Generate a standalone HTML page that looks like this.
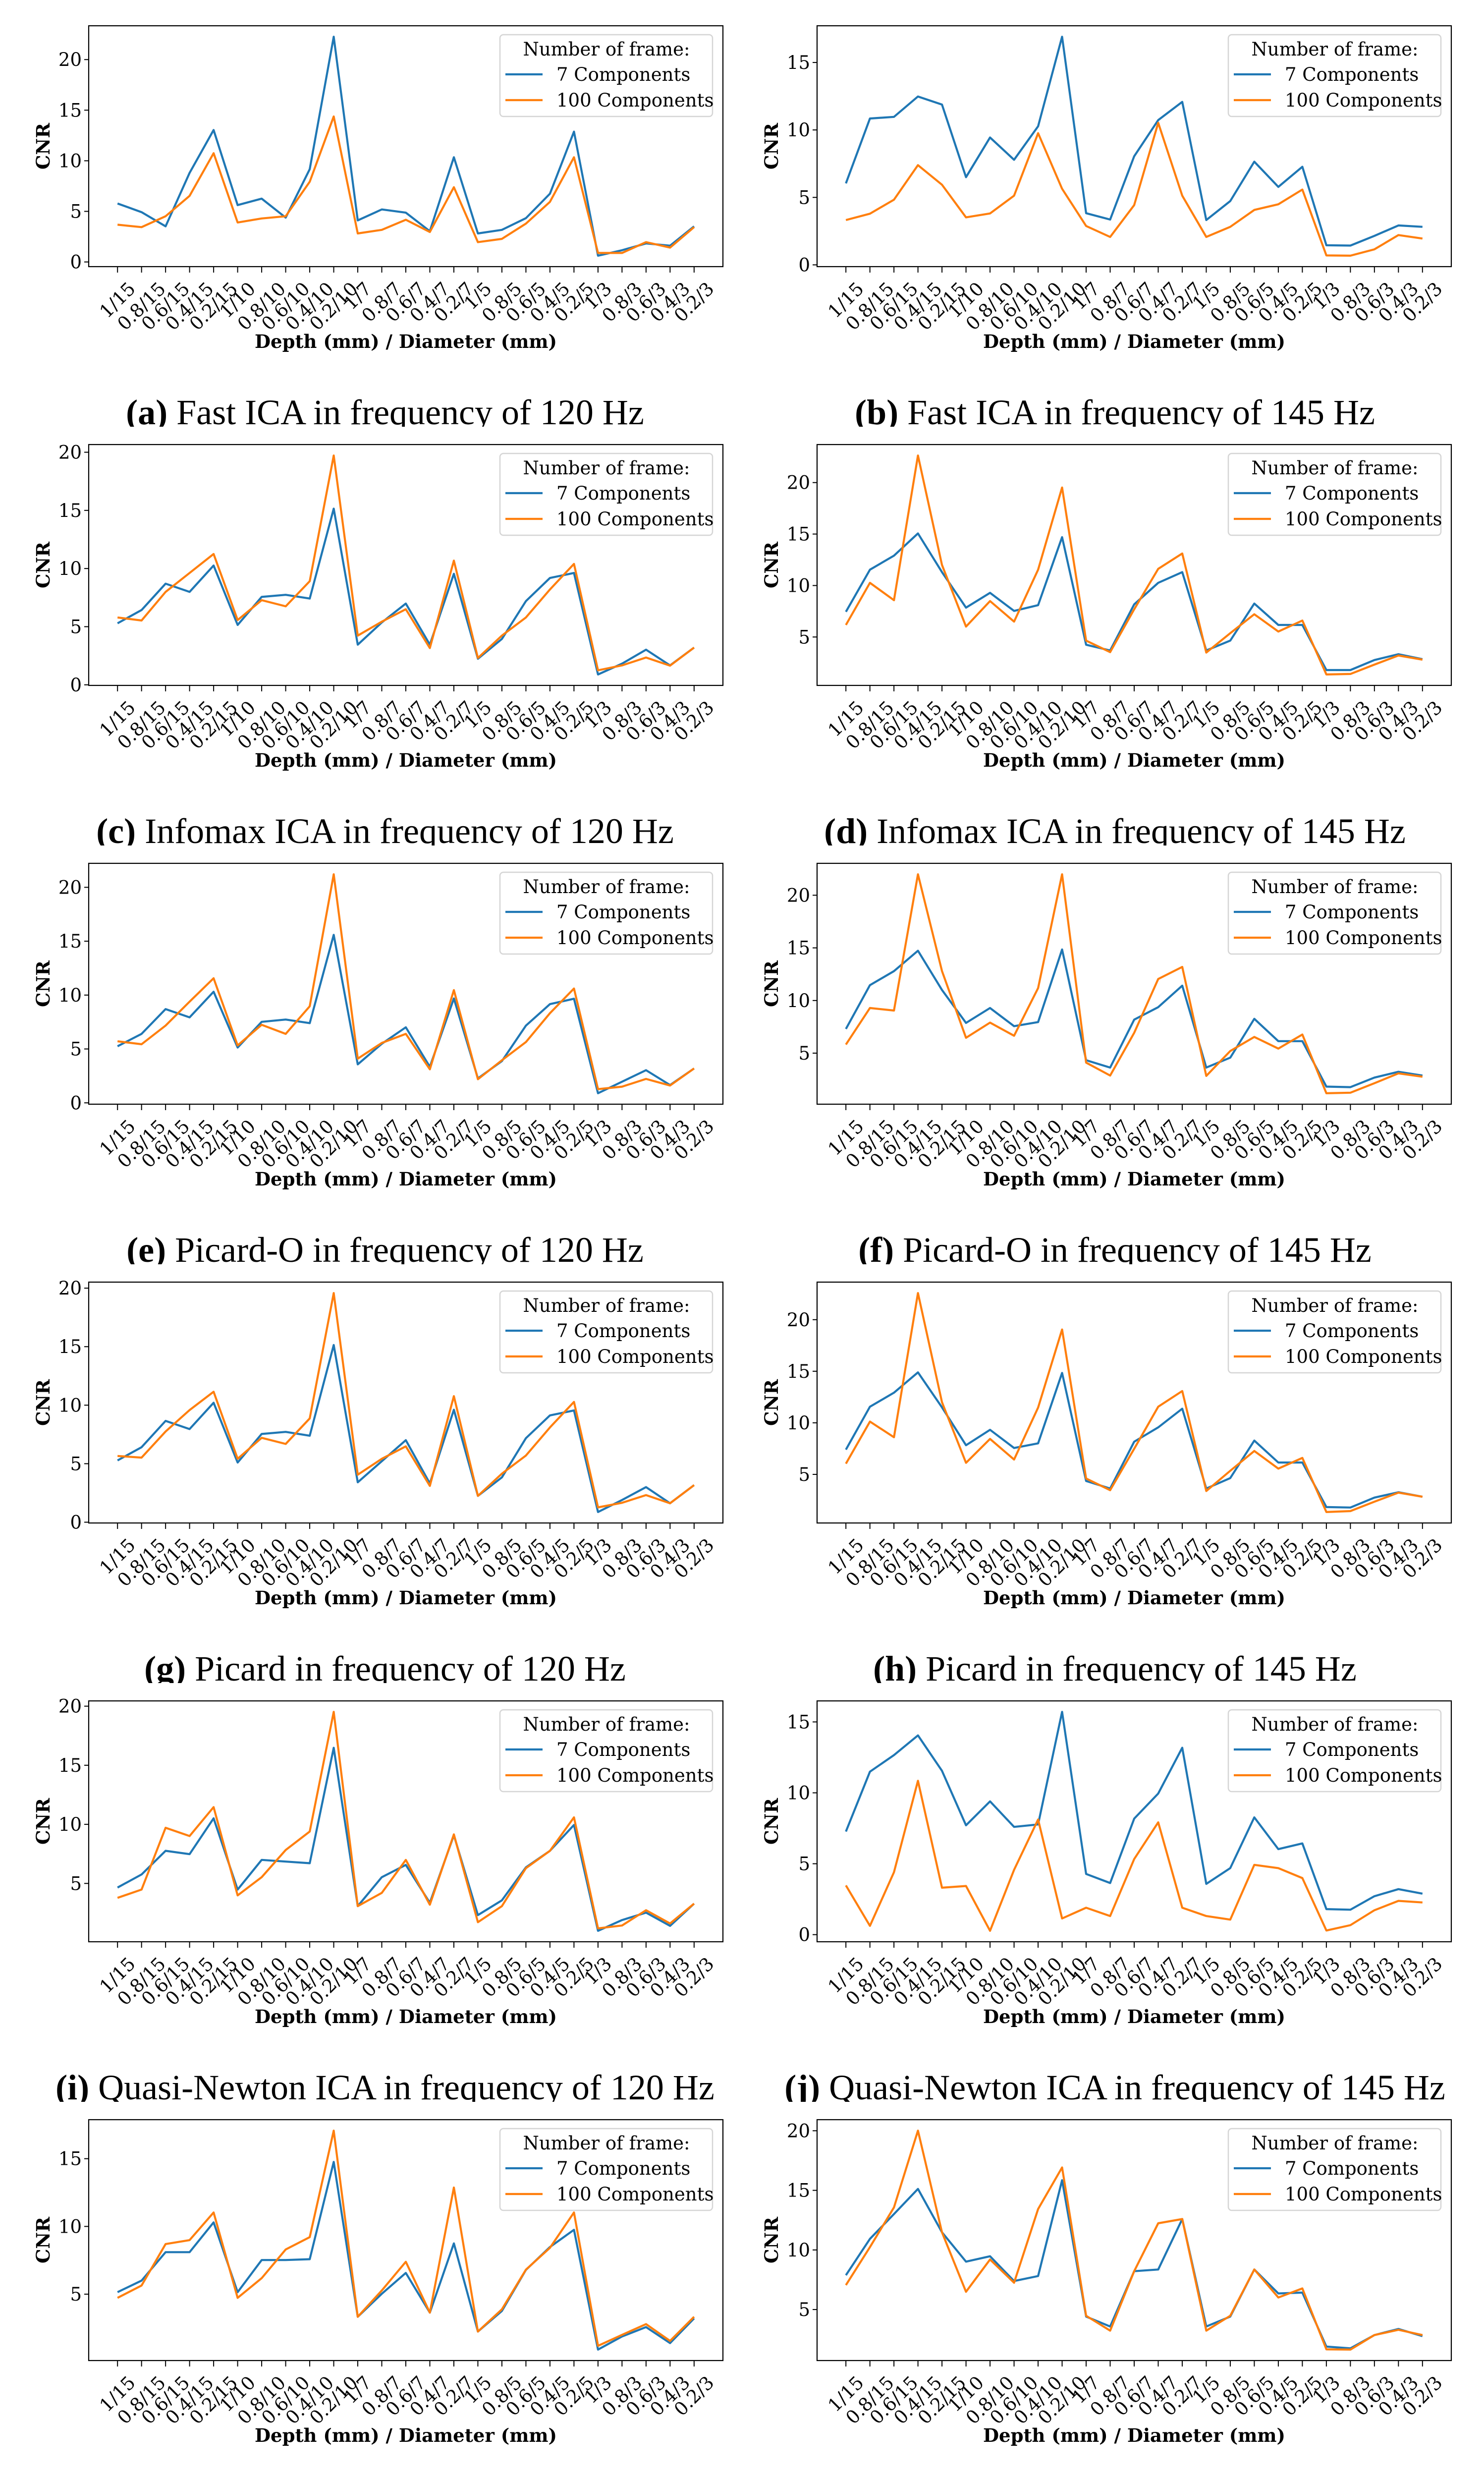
<!DOCTYPE html>
<html><head><meta charset="utf-8"><style>
html,body{margin:0;padding:0;background:#fff;width:2995px;height:5154px;overflow:hidden;}
svg{display:block;}
</style></head><body>
<svg id="fig" xmlns="http://www.w3.org/2000/svg" width="2995" height="5154" viewBox="0 0 2995 5154" overflow="hidden"></svg>
<script>
const categories = ["1/15","0.8/15","0.6/15","0.4/15","0.2/15","1/10","0.8/10","0.6/10","0.4/10","0.2/10","1/7","0.8/7","0.6/7","0.4/7","0.2/7","1/5","0.8/5","0.6/5","0.4/5","0.2/5","1/3","0.8/3","0.6/3","0.4/3","0.2/3"];
const seriesNames = ["7 Components","100 Components"];
const captionLetters = ["(a)","(b)","(c)","(d)","(e)","(f)","(g)","(h)","(i)","(j)","(k)","(l)"];
const captionTexts = ["Fast ICA in frequency of 120 Hz","Fast ICA in frequency of 145 Hz","Infomax ICA in frequency of 120 Hz","Infomax ICA in frequency of 145 Hz","Picard-O in frequency of 120 Hz","Picard-O in frequency of 145 Hz","Picard in frequency of 120 Hz","Picard in frequency of 145 Hz","Quasi-Newton ICA in frequency of 120 Hz","Quasi-Newton ICA in frequency of 145 Hz","Trust-Region ICA in frequency of 120 Hz","Trust-Region ICA in frequency of 145 Hz"];

const blue_a=[5.78,4.92,3.52,8.8,13.04,5.62,6.26,4.38,9.17,22.26,4.11,5.19,4.87,3.04,10.35,2.82,3.17,4.33,6.75,12.88,0.62,1.16,1.83,1.61,3.52];
const orange_a=[3.68,3.44,4.52,6.53,10.75,3.9,4.3,4.52,7.93,14.38,2.82,3.17,4.17,2.96,7.39,1.96,2.28,3.79,5.94,10.35,0.89,0.89,1.96,1.42,3.44];
const blue_b=[6.04,10.85,10.97,12.48,11.88,6.5,9.44,7.79,10.27,16.91,3.83,3.36,8.05,10.73,12.08,3.32,4.73,7.65,5.78,7.27,1.45,1.43,2.15,2.92,2.82];
const orange_b=[3.32,3.79,4.83,7.39,5.94,3.52,3.81,5.13,9.76,5.64,2.88,2.07,4.43,10.53,5.13,2.07,2.82,4.07,4.49,5.58,0.7,0.68,1.15,2.21,1.95];
const blue_c=[5.29,6.43,8.7,7.99,10.26,5.15,7.56,7.74,7.42,15.15,3.45,5.36,6.99,3.45,9.55,2.24,3.94,7.2,9.19,9.62,0.89,1.82,3.02,1.67,3.2];
const orange_c=[5.79,5.53,7.99,9.62,11.25,5.57,7.28,6.75,8.91,19.72,4.23,5.43,6.5,3.16,10.68,2.31,4.23,5.79,8.2,10.4,1.25,1.67,2.35,1.65,3.2];
const blue_d=[7.45,11.54,12.9,15.06,11.3,7.85,9.29,7.53,8.09,14.7,4.25,3.69,8.17,10.26,11.3,3.69,4.65,8.25,6.17,6.17,1.79,1.79,2.76,3.33,2.85];
const orange_d=[6.17,10.26,8.57,22.63,12.0,6.01,8.49,6.49,11.54,19.52,4.65,3.53,7.69,11.62,13.11,3.49,5.37,7.21,5.53,6.6,1.36,1.41,2.32,3.2,2.8];
const blue_e=[5.25,6.4,8.7,7.93,10.31,5.13,7.52,7.73,7.4,15.59,3.57,5.48,7.01,3.34,9.69,2.27,3.87,7.17,9.16,9.66,0.89,1.96,3.03,1.65,3.19];
const orange_e=[5.71,5.44,7.17,9.39,11.56,5.33,7.24,6.4,8.96,21.21,4.1,5.56,6.4,3.11,10.46,2.19,3.95,5.64,8.32,10.61,1.27,1.5,2.22,1.61,3.19];
const blue_f=[7.3,11.46,12.79,14.73,11.0,7.87,9.29,7.56,7.95,14.85,4.33,3.63,8.18,9.37,11.41,3.63,4.57,8.26,6.14,6.14,1.82,1.77,2.68,3.23,2.87];
const orange_f=[5.82,9.29,9.05,21.99,12.8,6.46,7.9,6.65,11.18,21.99,4.1,2.87,6.93,12.04,13.19,2.84,5.2,6.54,5.43,6.77,1.19,1.24,2.14,3.08,2.76];
const blue_g=[5.28,6.41,8.66,7.96,10.21,5.1,7.54,7.72,7.39,15.14,3.41,5.21,7.01,3.31,9.61,2.25,3.83,7.18,9.13,9.55,0.87,1.9,3.0,1.62,3.17];
const orange_g=[5.66,5.52,7.75,9.58,11.15,5.42,7.21,6.69,8.87,19.58,4.06,5.42,6.48,3.1,10.77,2.25,4.15,5.7,8.1,10.28,1.27,1.66,2.32,1.62,3.17];
const blue_h=[7.4,11.56,12.92,14.89,11.5,7.83,9.32,7.56,8.01,14.84,4.36,3.63,8.17,9.56,11.37,3.63,4.64,8.28,6.15,6.15,1.83,1.79,2.75,3.27,2.83];
const orange_h=[6.04,10.12,8.6,22.58,12.0,6.12,8.44,6.44,11.48,19.05,4.6,3.47,7.48,11.56,13.08,3.39,5.35,7.27,5.56,6.6,1.35,1.44,2.35,3.23,2.83];
const blue_i=[4.65,5.76,7.76,7.48,10.51,4.48,6.99,6.85,6.71,16.48,3.08,5.53,6.57,3.36,9.08,2.32,3.57,6.36,7.76,9.95,0.99,1.9,2.53,1.41,3.29];
const orange_i=[3.78,4.48,9.71,9.01,11.46,3.99,5.53,7.83,9.39,19.52,3.08,4.2,6.99,3.2,9.15,1.72,3.08,6.29,7.76,10.59,1.2,1.44,2.73,1.61,3.29];
const blue_j=[7.27,11.49,12.66,14.05,11.55,7.71,9.4,7.6,7.77,15.71,4.28,3.64,8.18,9.95,13.18,3.58,4.69,8.27,6.03,6.43,1.8,1.76,2.71,3.21,2.89];
const orange_j=[3.47,0.62,4.4,10.85,3.31,3.43,0.27,4.57,8.12,1.14,1.9,1.31,5.33,7.92,1.9,1.31,1.06,4.92,4.69,3.99,0.29,0.67,1.72,2.38,2.27];
const blue_k=[5.15,6.0,8.1,8.1,10.3,5.15,7.52,7.52,7.58,14.76,3.33,5.03,6.57,3.64,8.75,2.24,3.76,6.79,8.48,9.75,0.91,1.88,2.57,1.39,3.21];
const orange_k=[4.73,5.64,8.7,8.99,11.03,4.73,6.18,8.3,9.21,17.07,3.33,5.27,7.39,3.64,12.87,2.24,3.88,6.81,8.42,11.03,1.19,2.0,2.79,1.55,3.33];
const blue_l=[7.88,10.93,13.01,15.12,11.48,9.02,9.47,7.39,7.81,15.85,4.41,3.58,8.22,8.36,12.59,3.58,4.41,8.36,6.35,6.42,1.89,1.75,2.86,3.37,2.77];
const orange_l=[7.05,10.24,13.57,20.01,11.48,6.49,9.2,7.25,13.43,16.92,4.48,3.23,8.22,12.24,12.59,3.23,4.48,8.36,6.01,6.77,1.66,1.64,2.86,3.3,2.86];

const blueSeries=[blue_a,blue_b,blue_c,blue_d,blue_e,blue_f,blue_g,blue_h,blue_i,blue_j,blue_k,blue_l];
const orangeSeries=[orange_a,orange_b,orange_c,orange_d,orange_e,orange_f,orange_g,orange_h,orange_i,orange_j,orange_k,orange_l];

const NS="http://www.w3.org/2000/svg";
const svg=document.getElementById('fig');
function mk(tag,attrs,parent){const e=document.createElementNS(NS,tag);for(const k in attrs)e.setAttribute(k,attrs[k]);(parent||svg).appendChild(e);return e;}
const SERIF='"DejaVu Serif", "Liberation Serif", serif';
const CAP='"Liberation Serif", serif';
const AX_L=179, AX_W=1280, AX_T=52, AX_B=538, COL_OFF=1470, ROW_H=845;
const COLORS=["#1f77b4","#ff7f0e"];

for(let p=0;p<12;p++){
  const col=p%2,row=Math.floor(p/2);
  const ox=col*COL_OFF, oy=row*ROW_H;
  const g=mk('g',{transform:`translate(${ox},${oy})`});
  
  
  const b=blueSeries[p], o=orangeSeries[p];
  const all=b.concat(o);
  let mn=Math.min(...all), mx=Math.max(...all);
  const m=(mx-mn)*0.05; const lo=mn-m, hi=mx+m;
  const n=categories.length;
  const xlo=-0.05*(n-1), xhi=(n-1)*1.05;
  const xs=i=>AX_L+(i-xlo)/(xhi-xlo)*AX_W;
  const ys=v=>AX_B-(v-lo)/(hi-lo)*(AX_B-AX_T);
  for(let v=Math.ceil(lo/5)*5; v<=hi; v+=5){
    const y=ys(v);
    const t=mk('line',{x1:AX_L-9,x2:AX_L,y1:y,y2:y,stroke:'#000','stroke-width':2},g);
    
    
    const tx=mk('text',{x:AX_L-14,y:y+13,'text-anchor':'end','font-family':SERIF,'font-size':37,fill:'#000'},g);
    tx.textContent=String(v);
    
    
  }
  for(let i=0;i<n;i++){
    const x=xs(i);
    const t=mk('line',{x1:x,x2:x,y1:AX_B,y2:AX_B+12,stroke:'#000','stroke-width':2},g);
    
    
    const lbl=mk('text',{'text-anchor':'middle','dominant-baseline':'central','font-family':SERIF,'font-size':37,fill:'#000'},g);
    lbl.textContent=categories[i];
    
    
    const w=lbl.getComputedTextLength()||categories[i].length*22;
    const h=40;
    const cy=AX_B+24+(w+h)/(2*Math.SQRT2);
    lbl.setAttribute('x',x);lbl.setAttribute('y',cy);
    lbl.setAttribute('transform',`rotate(-45 ${x} ${cy})`);
  }
  [b,o].forEach((arr,si)=>{
    const pts=arr.map((v,i)=>xs(i).toFixed(1)+','+ys(v).toFixed(1)).join(' ');
    const pl=mk('polyline',{points:pts,fill:'none',stroke:COLORS[si],'stroke-width':4.2,'stroke-linejoin':'round'},g);
    
    
  });
  const fr=mk('rect',{x:AX_L,y:AX_T,width:AX_W,height:AX_B-AX_T,fill:'none',stroke:'#000','stroke-width':2.2},g);
  
  
  const lg=mk('g',{},g);
  
  
  mk('rect',{x:1009,y:70,width:429,height:165,rx:7,fill:'#fff','fill-opacity':0.85,stroke:'#d5d5d5','stroke-width':2.5},lg);
  const lt=mk('text',{x:1224,y:112,'text-anchor':'middle','font-family':SERIF,'font-size':37,fill:'#000'},lg);
  lt.textContent='Number of frame:';
  
  
  [150,202].forEach((ly,si)=>{
    const ll=mk('line',{x1:1020,x2:1095,y1:ly,y2:ly,stroke:COLORS[si],'stroke-width':4.2},lg);
    
    
    const le=mk('text',{x:1123,y:ly+13,'font-family':SERIF,'font-size':37,fill:'#000'},lg);
    le.textContent=seriesNames[si];
    
    
  });
  const yl=mk('text',{x:0,y:0,'text-anchor':'middle','font-family':SERIF,'font-size':37,'font-weight':'bold',fill:'#000',transform:`translate(100 ${(AX_T+AX_B)/2}) rotate(-90)`},g);
  yl.textContent='CNR';
  
  
  const xl=mk('text',{x:AX_L+AX_W/2,y:702,'text-anchor':'middle','font-family':SERIF,'font-size':37,'font-weight':'bold',fill:'#000'},g);
  xl.textContent='Depth (mm) / Diameter (mm)';
  
  
  const clipId='clip'+p;
  const cp=mk('clipPath',{id:clipId},g);
  mk('rect',{x:0,y:760,width:1500,height:row<5?101:125},cp);
  const cap=mk('text',{x:col===0?777:780,y:856,'text-anchor':'middle','font-family':CAP,'font-size':72,fill:'#000','clip-path':`url(#${clipId})`},g);
  
  
  const t1=mk('tspan',{'font-weight':'bold'},cap); t1.textContent=captionLetters[p];
  const t2=mk('tspan',{},cap); t2.textContent=' '+captionTexts[p];
}
</script>
</body></html>
